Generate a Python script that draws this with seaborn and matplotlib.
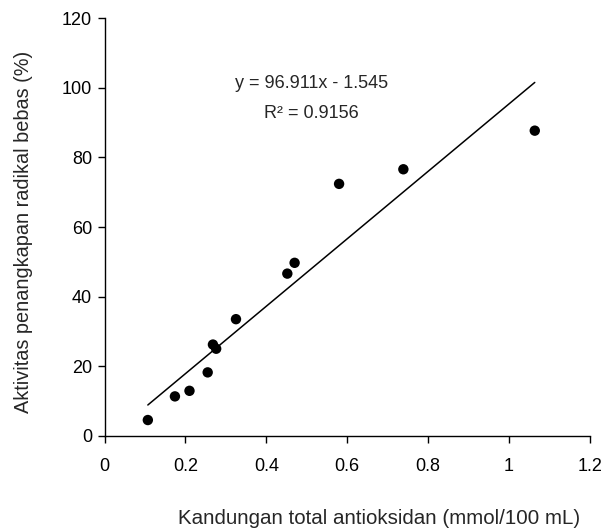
import matplotlib
matplotlib.use("Agg")
import matplotlib.pyplot as plt
import seaborn as sns
import numpy as np
import pandas as pd

# Data
antioksidan = [0.107, 0.174, 0.210, 0.255, 0.268, 0.276, 0.325, 0.452, 0.470, 0.580, 0.739, 1.064]
aktivitas = [4.5, 11.3, 12.9, 18.2, 26.2, 25.0, 33.5, 46.6, 49.7, 72.4, 76.6, 87.7]
slope = 96.911
intercept = -1.545
r2 = 0.9156
x_ticks = [0, 0.2, 0.4, 0.6, 0.8, 1.0, 1.2]
x_tick_labels = ["0", "0.2", "0.4", "0.6", "0.8", "1", "1.2"]
y_ticks = [0, 20, 40, 60, 80, 100, 120]

sns.set_style("ticks")
plt.rcParams['font.family'] = ['Liberation Sans', 'DejaVu Sans']

df = pd.DataFrame({"x": antioksidan, "y": aktivitas})
fit_x = [min(antioksidan), max(antioksidan)]
fit_df = pd.DataFrame({"x": fit_x, "y": [slope * v + intercept for v in fit_x]})

fig = plt.figure(figsize=(6.08, 5.31), dpi=100)
ax = fig.add_axes([0.172, 0.1795, 0.798, 0.786])

sns.lineplot(data=fit_df, x="x", y="y", ax=ax, color="black", linewidth=1.1)
sns.scatterplot(data=df, x="x", y="y", ax=ax, color="black", s=56, edgecolor="none", zorder=3)

ax.set_xlim(0, 1.2)
ax.set_ylim(0, 120)
ax.set_xticks(x_ticks)
ax.set_xticklabels(x_tick_labels)
ax.set_yticks(y_ticks)
ax.tick_params(axis="both", direction="out", length=5, width=1, color="black",
               labelsize=13, labelcolor="black")
ax.tick_params(axis="x", pad=11)
ax.tick_params(axis="y", pad=4)
for s in ["top", "right"]:
    ax.spines[s].set_visible(False)
for s in ["left", "bottom"]:
    ax.spines[s].set_color("black")
    ax.spines[s].set_linewidth(1)

ax.set_xlabel("Kandungan total antioksidan (mmol/100 mL)", fontsize=14.8)
ax.set_ylabel("Aktivitas penangkapan radikal bebas (%)", fontsize=14.3)
ax.xaxis.set_label_coords(0.565, -0.176)
ax.yaxis.set_label_coords(-0.147, 0.488)

ax.text(0.511, 101.4, f"y = {slope}x - {abs(intercept)}", ha="center", va="center", fontsize=13)
ax.text(0.511, 92.6, f"R² = {r2}", ha="center", va="center", fontsize=13)

fig.savefig("out.png", dpi=100)
